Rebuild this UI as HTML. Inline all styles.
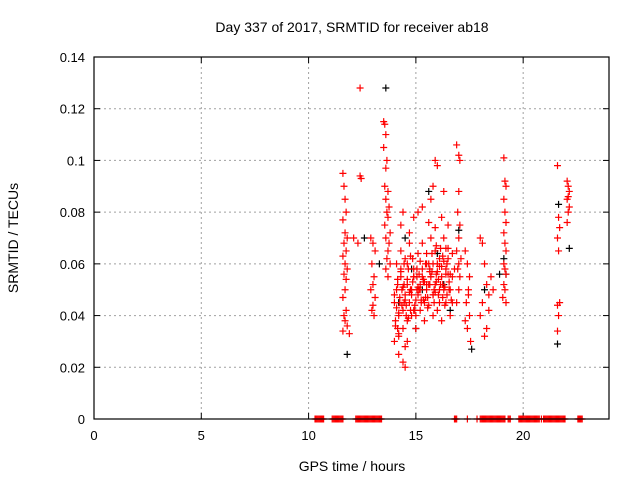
<!DOCTYPE html>
<html><head><meta charset="utf-8"><style>
body{margin:0;background:#fff}
svg{display:block;font-family:"Liberation Sans",sans-serif}
</style></head><body>
<svg id="chart" width="640" height="480">
<rect width="640" height="480" fill="#fff"/>
<text x="352" y="32" font-size="14" text-anchor="middle">Day 337 of 2017, SRMTID for receiver ab18</text>
<text x="352" y="471" font-size="14" text-anchor="middle">GPS time / hours</text>
<text transform="translate(18,238) rotate(-90)" font-size="14" text-anchor="middle">SRMTID / TECUs</text>
<g id="grid"></g><g id="ticks"></g><g id="marks"></g>
<rect x="94" y="57" width="515" height="362" fill="none" stroke="#000" stroke-width="1.2"/>
</svg>
<script>
const xTicks=[0,5,10,15,20];
const yTicks=[0,0.02,0.04,0.06,0.08,0.1,0.12,0.14];
const yTickLabels=["0","0.02","0.04","0.06","0.08","0.1","0.12","0.14"];
const redT=[11.6,11.65,11.7,11.75,11.6,11.7,11.8,11.65,11.75,11.6,11.7,11.8,11.65,11.75,11.7,11.6,11.75,11.65,11.7,11.8,11.6,11.9,
12.4,12.4,12.45,12.1,12.3,
12.9,13.0,13.1,12.95,13.05,13.0,12.9,13.1,13.0,12.95,13.05,
13.5,13.55,13.6,13.5,13.65,13.6,13.55,13.7,13.6,13.75,13.65,13.7,13.55,13.8,13.6,13.75,13.7,13.65,13.8,13.6,13.7,
14.0,14.1,14.2,14.3,14.4,14.5,14.6,14.7,14.8,14.9,15.0,15.1,15.2,15.3,15.4,15.5,15.6,15.7,15.8,15.9,16.0,16.1,16.2,16.3,16.4,16.5,16.6,16.7,
14.05,14.15,14.25,14.35,14.45,14.55,14.65,14.75,14.85,14.95,15.05,15.15,15.25,15.35,15.45,15.55,15.65,15.75,15.85,15.95,16.05,16.15,16.25,16.35,16.45,16.55,16.65,
14.0,14.2,14.4,14.6,14.8,15.0,15.2,15.4,15.6,15.8,16.0,16.2,16.4,16.6,16.8,
14.1,14.3,14.5,14.7,14.9,15.1,15.3,15.5,15.7,15.9,16.1,16.3,16.5,16.7,
14.0,14.15,14.3,14.45,14.6,14.75,14.9,15.05,15.2,15.35,15.5,15.65,15.8,15.95,16.1,16.25,16.4,16.55,16.7,
14.2,14.4,14.5,14.6,14.3,14.4,14.7,14.9,15.1,15.3,15.6,15.9,16.2,
15.7,15.8,15.9,16.0,16.3,16.5,14.5,14.2,
14.1,14.25,14.4,14.55,14.7,14.85,15.0,15.15,15.3,15.45,15.6,15.75,15.9,16.05,16.2,16.35,16.5,
14.05,14.2,14.35,14.5,14.65,14.8,14.95,15.1,15.25,15.4,15.55,15.7,15.85,16.0,16.15,16.3,16.45,16.6,
14.15,14.3,14.45,14.6,14.75,14.9,15.05,15.2,15.35,15.5,15.65,15.8,15.95,16.1,16.25,16.4,
16.9,17.0,17.05,17.0,16.95,17.05,17.0,16.9,17.1,17.0,16.95,17.05,17.0,16.9,
17.3,17.4,17.5,17.45,17.35,17.5,17.4,17.55,17.3,17.45,
18.0,18.1,18.2,18.3,18.4,18.1,18.0,18.3,18.2,18.5,18.4,18.6,
19.1,19.15,19.2,19.1,19.15,19.2,19.1,19.15,19.2,19.1,19.15,19.2,19.1,19.15,19.05,19.2,
21.6,21.65,21.7,21.6,21.7,21.6,21.65,21.6,21.65,
22.05,22.1,22.15,22.1,22.05,22.15,22.1,22.05];
const redV=[0.095,0.09,0.085,0.08,0.077,0.072,0.07,0.068,0.065,0.063,0.06,0.058,0.056,0.054,0.05,0.047,0.042,0.04,0.038,0.036,0.034,0.033,
0.128,0.094,0.093,0.07,0.068,
0.07,0.068,0.065,0.06,0.055,0.052,0.05,0.047,0.044,0.042,0.04,
0.115,0.114,0.11,0.105,0.1,0.097,0.09,0.088,0.085,0.082,0.08,0.078,0.075,0.072,0.07,0.068,0.065,0.062,0.06,0.058,0.055,
0.045,0.05,0.04,0.055,0.042,0.048,0.06,0.045,0.05,0.055,0.04,0.048,0.052,0.058,0.045,0.05,0.06,0.055,0.048,0.052,0.06,0.045,0.055,0.05,0.058,0.062,0.05,0.055,
0.038,0.035,0.045,0.05,0.052,0.04,0.058,0.042,0.062,0.044,0.05,0.056,0.046,0.054,0.06,0.043,0.052,0.064,0.045,0.056,0.048,0.066,0.052,0.044,0.06,0.053,0.046,
0.03,0.032,0.035,0.038,0.04,0.035,0.042,0.038,0.044,0.04,0.042,0.038,0.045,0.04,0.058,
0.06,0.065,0.062,0.068,0.058,0.064,0.068,0.06,0.07,0.065,0.062,0.07,0.066,0.064,
0.048,0.052,0.058,0.045,0.054,0.05,0.042,0.055,0.05,0.046,0.052,0.058,0.048,0.053,0.05,0.047,0.056,0.05,0.045,
0.025,0.022,0.02,0.03,0.075,0.08,0.072,0.078,0.08,0.082,0.076,0.074,0.078,
0.085,0.09,0.1,0.098,0.088,0.075,0.028,0.033,
0.043,0.047,0.051,0.044,0.049,0.053,0.046,0.05,0.055,0.047,0.052,0.057,0.049,0.054,0.059,0.051,0.056,
0.036,0.041,0.044,0.046,0.039,0.048,0.042,0.051,0.045,0.053,0.047,0.055,0.05,0.057,0.052,0.061,0.048,0.056,
0.054,0.057,0.06,0.052,0.063,0.055,0.058,0.061,0.053,0.064,0.057,0.06,0.067,0.059,0.063,0.066,
0.106,0.102,0.1,0.088,0.08,0.075,0.07,0.065,0.062,0.06,0.058,0.055,0.05,0.045,
0.065,0.06,0.055,0.05,0.045,0.04,0.035,0.03,0.038,0.048,
0.07,0.068,0.06,0.052,0.048,0.045,0.04,0.035,0.032,0.055,0.042,0.05,
0.101,0.092,0.09,0.085,0.08,0.076,0.072,0.068,0.065,0.06,0.058,0.056,0.052,0.05,0.047,0.045,
0.098,0.078,0.074,0.07,0.045,0.044,0.04,0.034,0.065,
0.092,0.09,0.088,0.086,0.085,0.082,0.08,0.076];
const blackT=[11.8,12.6,13.6,13.3,14.2,14.8,15.3,15.6,16.0,16.3,16.6,17.0,17.6,18.2,18.9,19.1,19.2,21.6,21.65,22.15,15.0,14.5];
const blackV=[0.025,0.07,0.128,0.06,0.045,0.058,0.05,0.088,0.064,0.052,0.042,0.073,0.027,0.05,0.056,0.062,0.056,0.029,0.083,0.066,0.035,0.07];
const zeroT=[10.3,10.35,10.4,10.45,10.5,10.55,10.6,10.65,10.7,
11.1,11.15,11.2,11.25,11.3,11.35,11.4,11.45,11.5,11.55,11.6,
12.2,12.25,12.3,12.35,12.4,12.45,12.5,12.55,12.6,12.65,12.7,12.75,12.8,12.85,12.9,12.95,13.0,13.05,13.1,13.15,13.2,13.25,13.3,13.35,13.4,
16.8,16.85,16.9,17.4,17.85,18.0,18.05,18.1,18.15,18.2,18.25,18.3,18.35,18.4,18.45,18.5,18.55,18.6,18.65,18.7,18.75,18.8,18.85,18.9,18.95,19.0,19.05,19.1,19.15,19.3,19.35,19.4,
19.8,19.85,19.9,19.95,20.0,20.05,20.1,20.15,20.2,20.25,20.3,20.35,20.4,20.45,20.5,20.55,20.6,20.65,20.7,20.75,20.85,20.95,21.0,21.05,21.1,21.15,21.2,21.25,21.3,21.35,21.4,21.45,21.5,21.55,21.6,21.65,21.7,21.75,21.8,21.85,21.9,21.95,
22.55,22.6,22.65,22.7,22.75];
const zeroV=zeroT.map(()=>0);
const X0=94,X1=609,Y0=419,Y1=57;
const xs=t=>X0+t/24*(X1-X0), ys=v=>Y0-v/0.14*(Y0-Y1);
const NS="http://www.w3.org/2000/svg";
function mk(tag,a,p){const e=document.createElementNS(NS,tag);for(const k in a)e.setAttribute(k,a[k]);p.appendChild(e);return e;}
const grid=document.getElementById('grid'),ticks=document.getElementById('ticks'),marks=document.getElementById('marks');
xTicks.forEach(t=>{const x=xs(t);
 if(t>0){const g=mk('line',{x1:x,x2:x,y1:Y1,y2:Y0,stroke:'#a0a0a0','stroke-dasharray':'2,3'},grid);
 
 }
 mk('line',{x1:x,x2:x,y1:Y0,y2:Y0-6,stroke:'#000'},ticks);mk('line',{x1:x,x2:x,y1:Y1,y2:Y1+6,stroke:'#000'},ticks);
 const l=mk('text',{x:x,y:Y0+21,'font-size':13,'text-anchor':'middle'},ticks);l.textContent=t;
 
 });
yTicks.forEach((v,i)=>{const y=ys(v);
 if(v>0&&v<0.14){const g=mk('line',{x1:X0,x2:X1,y1:y,y2:y,stroke:'#a0a0a0','stroke-dasharray':'2,3'},grid);
 
 }
 mk('line',{x1:X0,x2:X0+6,y1:y,y2:y,stroke:'#000'},ticks);mk('line',{x1:X1,x2:X1-6,y1:y,y2:y,stroke:'#000'},ticks);
 const l=mk('text',{x:X0-9,y:y+5,'font-size':13,'text-anchor':'end'},ticks);l.textContent=yTickLabels[i];
 
 });
mk('line',{x1:X0,x2:X1,y1:Y0,y2:Y0,stroke:'#000'},ticks);
function plus(t,v,c,name){const x=xs(t),y=ys(v);
 const p=mk('path',{d:`M${x-3.5},${y}h7M${x},${y-3.5}v7`,stroke:c,'stroke-width':1.2,fill:'none'},marks);
 
 }
blackT.forEach((t,i)=>plus(t,blackV[i],'#000','black-point'));
redT.forEach((t,i)=>plus(t,redV[i],'#ff0000','red-point'));
zeroT.forEach((t,i)=>{plus(t,zeroV[i],'#ff0000','zero-point');});
</script>
</body></html>
